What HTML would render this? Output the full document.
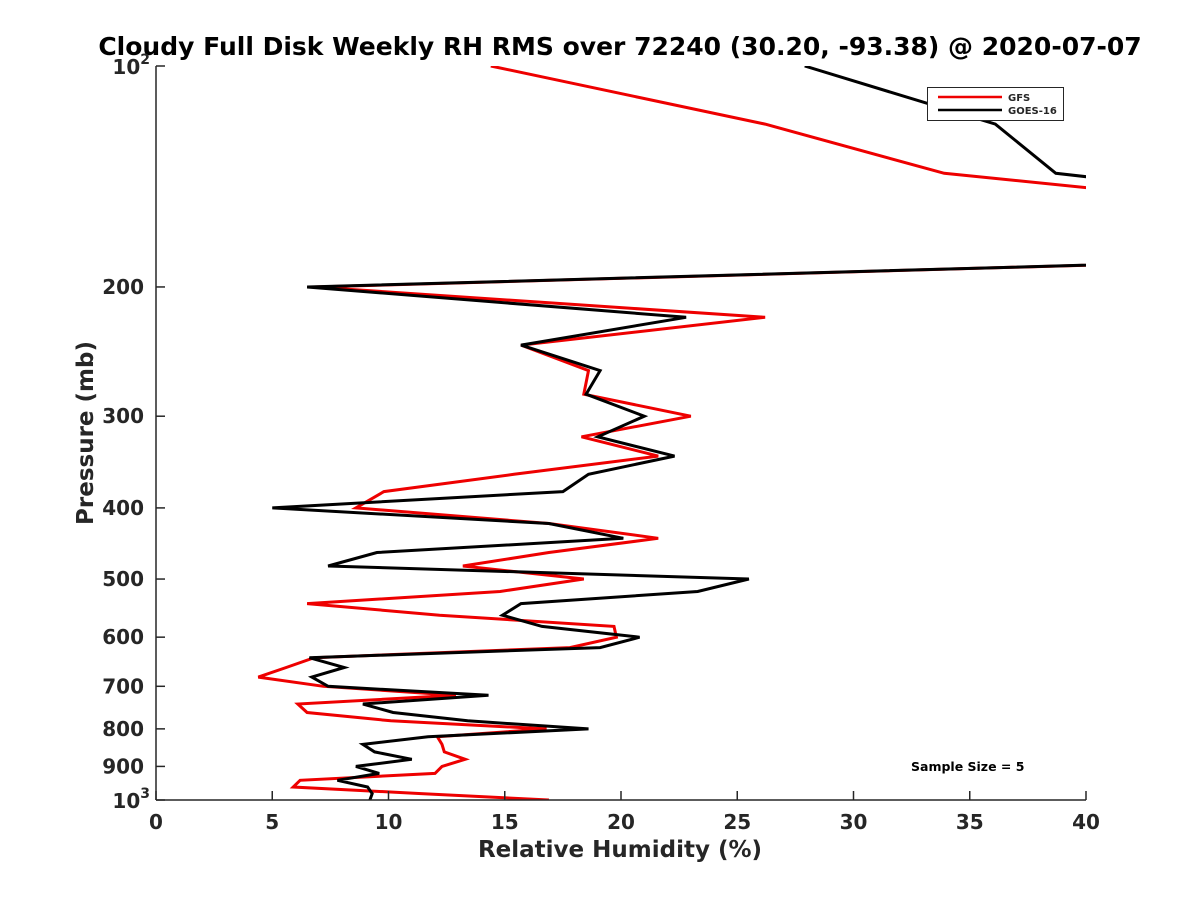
<!DOCTYPE html>
<html><head><meta charset="utf-8"><style>
body{margin:0;background:#fff;}
svg text{font-family:"DejaVu Sans","Liberation Sans",sans-serif;font-weight:bold;fill:#262626;}
</style></head><body>
<svg id="chart" width="1200" height="900" xmlns="http://www.w3.org/2000/svg">
<defs><clipPath id="clip"><rect x="156" y="66" width="930" height="734"/></clipPath></defs>
<rect width="1200" height="900" fill="#fff"/>
<text x="620" y="55" text-anchor="middle" font-size="25" style="fill:#000">Cloudy Full Disk Weekly RH RMS over 72240 (30.20, -93.38) @ 2020-07-07</text>
<g id="series" clip-path="url(#clip)"></g>
<g id="axes"></g>
<g>
<rect x="927.5" y="87.5" width="136" height="33" fill="#fff" stroke="#262626" stroke-width="1"/>
<line x1="938" y1="97" x2="1002" y2="97" stroke="#e00" stroke-width="2.5"/>
<text x="1008" y="101" font-size="10">GFS</text>
<line x1="938" y1="110" x2="1002" y2="110" stroke="#000" stroke-width="2.5"/>
<text x="1008" y="114" font-size="10">GOES-16</text>
</g>
<text x="911" y="771" font-size="12.5" style="fill:#000">Sample Size = 5</text>
<text x="620" y="857" text-anchor="middle" font-size="23">Relative Humidity (%)</text>
<text transform="translate(93,433) rotate(-90)" text-anchor="middle" font-size="23">Pressure (mb)</text>
</svg>
<script>
const pressures=[100,120,140,160,180,200,220,240,260,280,300,320,340,360,380,400,420,440,460,480,500,520,540,560,580,600,620,640,660,680,700,720,740,760,780,800,820,840,860,880,900,920,940,960,980,1000];
const gfsRH=[14.4,26.2,33.9,52,58,6.8,26.2,15.7,18.6,18.4,23.0,18.3,21.6,15.4,9.8,8.6,16.9,21.6,16.9,13.2,18.4,14.8,6.5,12.2,19.7,19.8,17.8,6.8,5.6,4.4,7.2,12.9,6.1,6.5,10.1,16.8,12.1,12.3,12.4,13.3,12.3,12.0,6.2,5.9,11.4,16.9];
const goesRH=[27.9,36.1,38.7,55,58,6.5,22.8,15.7,19.1,18.5,21.0,19.0,22.3,18.6,17.5,5.0,16.9,20.1,9.5,7.4,25.5,23.3,15.7,14.9,16.6,20.8,19.1,6.6,8.1,6.7,7.4,14.3,8.9,10.2,13.4,18.6,11.7,8.9,9.4,11.0,8.6,9.6,7.8,9.1,9.3,9.2];
const xTicks=[0,5,10,15,20,25,30,35,40];
const yTicks=[200,300,400,500,600,700,800,900];
const NS='http://www.w3.org/2000/svg';
const X0=156,X1=1086,Y0=66,Y1=800;
function xs(v){return X0+(v-0)/40*(X1-X0);}
function ys(p){return Y0+Math.log10(p/100)*(Y1-Y0);}
function mk(tag,attrs,parent){const e=document.createElementNS(NS,tag);for(const k in attrs)e.setAttribute(k,attrs[k]);parent.appendChild(e);return e;}
const sg=document.getElementById('series');
function line(vals,color,name){
  const d=vals.map((v,i)=>(i?'L':'M')+xs(v).toFixed(1)+','+ys(pressures[i]).toFixed(1)).join(' ');
  const p=mk('path',{d:d,fill:'none',stroke:color,'stroke-width':3,'stroke-linejoin':'miter'},sg);
  
  
}
line(gfsRH,'#e00','gfs-line');
line(goesRH,'#000','goes16-line');
const ag=document.getElementById('axes');
const la=mk('line',{x1:X0,y1:Y0,x2:X0,y2:Y1,stroke:'#262626','stroke-width':1.5},ag);


const ba=mk('line',{x1:X0,y1:Y1,x2:X1,y2:Y1,stroke:'#262626','stroke-width':1.5},ag);


xTicks.forEach(t=>{
  const x=xs(t);
  const tk=mk('line',{x1:x,y1:Y1,x2:x,y2:Y1-9,stroke:'#262626','stroke-width':1.5},ag);
  
  
  const tx=mk('text',{x:x,y:Y1+29,'text-anchor':'middle','font-size':20},ag);
  tx.textContent=t;
  
  
});
yTicks.concat([100,1000]).forEach(t=>{
  const y=ys(t);
  const tk=mk('line',{x1:X0,y1:y,x2:X0+9,y2:y,stroke:'#262626','stroke-width':1.5},ag);
  
  
  const tx=mk('text',{x:X0-12,y:y+7,'text-anchor':'end','font-size':20},ag);
  if(t===100||t===1000){
    tx.setAttribute('y',y+8);
    tx.textContent='10';
    const s=mk('tspan',{dy:-10,'font-size':14},tx);
    s.textContent=t===100?'2':'3';
    tx.setAttribute('x',X0-6);
  } else tx.textContent=t;
  
  
});
</script>
</body></html>
